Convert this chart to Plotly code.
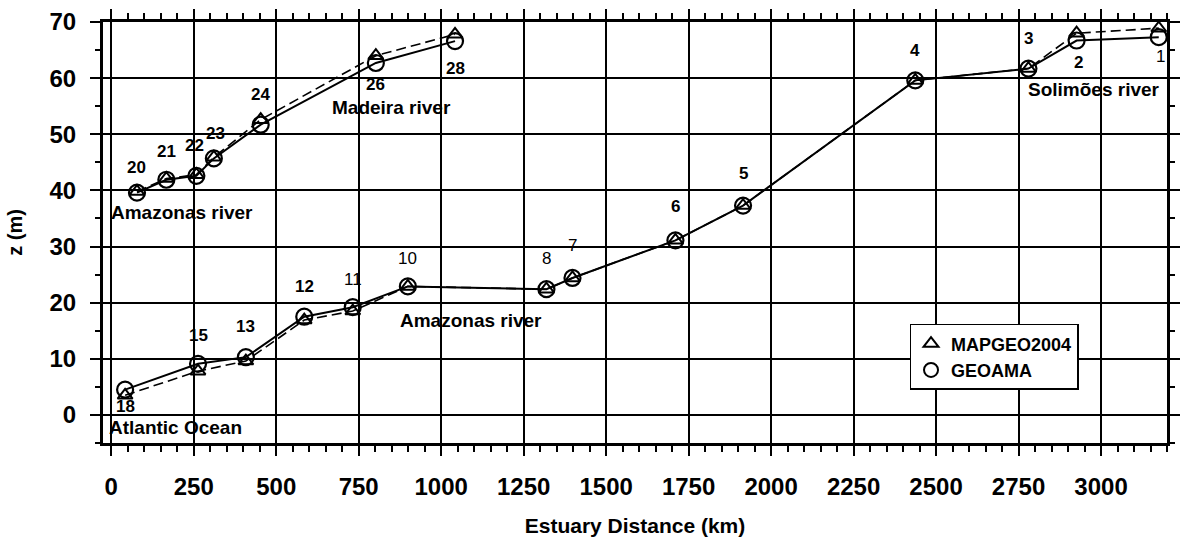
import plotly.graph_objects as go

# ---- data ----
# Lower branch: Atlantic Ocean -> Solimões river
low_ids = ["18", "15", "13", "12", "11", "10", "8", "7", "6", "5", "4", "3", "2", "1"]
low_dist = [42, 263, 408, 585, 732, 899, 1319, 1398, 1710, 1915, 2437, 2780, 2926, 3175]
low_geoama = [4.5, 9.1, 10.3, 17.5, 19.2, 22.9, 22.4, 24.4, 31.1, 37.3, 59.6, 61.7, 66.7, 67.3]
low_mapgeo = [3.5, 7.8, 9.6, 16.9, 18.5, 22.9, 22.4, 24.4, 31.1, 37.3, 59.6, 61.7, 68.0, 68.9]

# Upper branch: Amazonas river -> Madeira river
up_ids = ["20", "21", "22", "23", "24", "26", "28"]
up_dist = [78, 167, 258, 311, 453, 802, 1042]
up_geoama = [39.6, 41.9, 42.6, 45.7, 51.7, 62.7, 66.6]
up_mapgeo = [39.8, 42.1, 42.8, 45.9, 52.6, 64.0, 67.8]

river_labels = ["Amazonas river", "Madeira river", "Solimões river", "Amazonas river", "Atlantic Ocean"]
river_x = [213, 850, 2979, 1090, 195]
river_y = [36.0, 54.8, 57.9, 16.8, -2.3]

# ---- label offsets (pixels, style only) ----
low_dy = [-17, 28, 31, 30, 28, 28, 31, 32, 34, 32, 30, 30, -22, -19]
low_dx = [0, 0, 0, 0, 0, 0, 0, 0, 0, 0, 0, 0, 2, 2]
low_bold = [True, True, True, True, False, False, False, False, True, True, True, True, True, False]
up_dy = [25, 28, 30, 25, 30, -22, -27]
up_dx = [0, 0, -2, 2, 0, 0, 0]

FONT = "Liberation Sans, Arial, Helvetica, sans-serif"

fig = go.Figure()

dash_line = dict(color="black", width=1.6, dash="10px,5px")
solid_line = dict(color="black", width=2)
tri = dict(symbol="triangle-up-open", size=13, color="black", line=dict(width=2, color="black"))
circ = dict(symbol="circle-open", size=16, color="black", line=dict(width=2.2, color="black"))

for xs, ys in [(low_dist, low_mapgeo), (up_dist, up_mapgeo)]:
    fig.add_trace(go.Scatter(x=xs, y=ys, mode="lines+markers", line=dash_line,
                             marker=tri, showlegend=False, hoverinfo="skip"))
for xs, ys in [(low_dist, low_geoama), (up_dist, up_geoama)]:
    fig.add_trace(go.Scatter(x=xs, y=ys, mode="lines+markers", line=solid_line,
                             marker=circ, showlegend=False, hoverinfo="skip"))

# legend-only entries (marker symbol only, as in the reference)
fig.add_trace(go.Scatter(x=[None], y=[None], mode="markers", name="MAPGEO2004",
                         marker=dict(symbol="triangle-up-open", size=13, color="black",
                                     line=dict(width=2, color="black")),
                         legendgroup="a"))
fig.add_trace(go.Scatter(x=[None], y=[None], mode="markers", name="GEOAMA",
                         marker=dict(symbol="circle-open", size=14, color="black",
                                     line=dict(width=2, color="black")),
                         legendgroup="b"))

annotations = []
for i, t in enumerate(low_ids):
    annotations.append(dict(x=low_dist[i], y=low_geoama[i], text=t, showarrow=False,
                            xshift=low_dx[i], yshift=low_dy[i],
                            font=dict(size=17, family=FONT, color="black",
                                      weight="bold" if low_bold[i] else "normal")))
for i, t in enumerate(up_ids):
    annotations.append(dict(x=up_dist[i], y=up_geoama[i], text=t, showarrow=False,
                            xshift=up_dx[i], yshift=up_dy[i],
                            font=dict(size=17, family=FONT, color="black", weight="bold")))
for t, xv, yv in zip(river_labels, river_x, river_y):
    annotations.append(dict(x=xv, y=yv, text=t, showarrow=False,
                            font=dict(size=19, family=FONT, color="black", weight="bold")))

axis_common = dict(
    showline=True, linecolor="black", linewidth=3, mirror="ticks",
    ticks="outside", tickcolor="black", tickwidth=1.5, ticklen=10,
    showgrid=True, gridcolor="black", gridwidth=1.5, zeroline=False,
    tickfont=dict(size=24, family=FONT, color="black", weight="bold"),
)

fig.update_xaxes(
    **axis_common, range=[-25, 3200], tick0=0, dtick=250,
    minor=dict(dtick=50, tick0=0, ticks="outside", ticklen=6, tickcolor="black",
               tickwidth=1.5, showgrid=False),
    ticklabelstandoff=10,
    title=dict(text="Estuary Distance (km)", standoff=20,
               font=dict(size=21, family=FONT, color="black", weight="bold")),
)
fig.update_yaxes(
    **axis_common, range=[-5, 70], tick0=0, dtick=10,
    minor=dict(dtick=5, tick0=0, ticks="outside", ticklen=5, tickcolor="black",
               tickwidth=1.5, showgrid=False),
    ticklabelstandoff=9,
    title=dict(text="z (m)", standoff=22,
               font=dict(size=20, family=FONT, color="black", weight="bold")),
)

fig.update_layout(
    width=1188, height=542,
    margin=dict(l=103, r=8, t=19, b=93),
    plot_bgcolor="white", paper_bgcolor="white",
    font=dict(family=FONT, color="black", weight="bold"),
    annotations=annotations,
    showlegend=True,
    legend=dict(x=0.758, y=0.283, xanchor="left", yanchor="top",
                bgcolor="white", bordercolor="black", borderwidth=1.5,
                font=dict(size=18, family=FONT, color="black", weight="bold"),
                tracegroupgap=18, itemwidth=30, traceorder="normal",
                entrywidth=150, entrywidthmode="pixels"),
)

fig.write_html("out.html")
